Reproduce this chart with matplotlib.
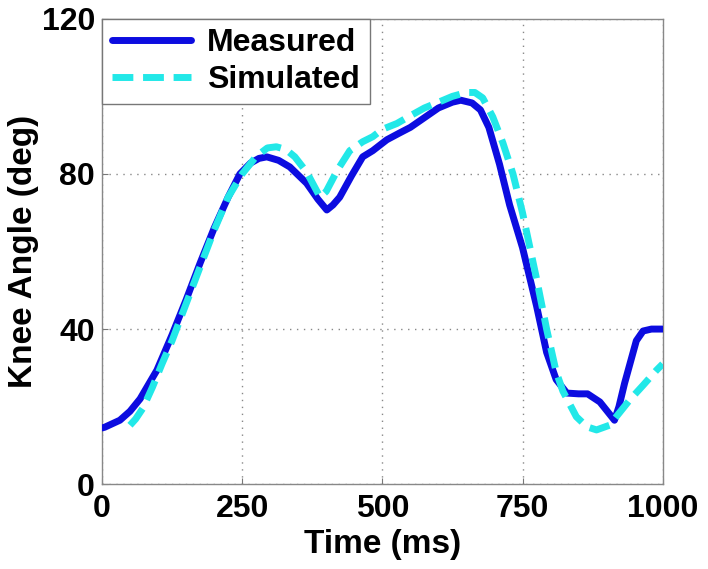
import matplotlib.pyplot as plt

# measured knee angle (ms, deg)
t_meas = [0, 5, 32, 50, 68, 98, 125, 150, 175, 200, 225, 246, 265, 280, 294,
          315, 335, 365, 385, 401, 412, 424, 445, 465, 483, 508, 530, 550, 575,
          600, 625, 640, 660, 675, 690, 709, 727, 750, 775, 793, 810, 829, 850,
          866, 888, 914, 922, 932, 953, 965, 980, 1000]
a_meas = [14.5, 14.7, 16.5, 18.8, 22, 29.4, 38.5, 47.5, 57, 66, 74, 80, 82.8, 84, 84.4,
          83.5, 81.8, 77.6, 73.5, 70.7, 72, 74, 79.5, 84.4, 86, 88.8, 90.5, 92, 94.5,
          97, 98.5, 99, 98.3, 96.5, 92, 82.5, 72, 61, 46, 34, 27, 23.5, 23.3,
          23.3, 21.2, 16.5, 20, 26, 37, 39.5, 40, 40]

# simulated knee angle (ms, deg)
t_sim = [50, 60, 73, 90, 107, 125, 150, 175, 200, 225, 250, 275, 295, 311, 328,
         344, 365, 389, 400, 420, 442, 465, 483, 500, 526, 550, 575, 602, 625,
         650, 665, 679, 697, 715, 733, 750, 775, 793, 810, 822, 846, 865, 882,
         905, 941, 965, 989, 1000]
a_sim = [15.2, 16.8, 19.6, 25, 31, 37, 46.5, 56, 65.5, 74, 80, 84.5, 86.7, 87, 86.3,
         84.4, 80.5, 74, 75.5, 81, 86, 88.3, 89.6, 91.5, 93, 95, 97, 98.6, 100,
         101, 101, 99.6, 94.7, 88, 80, 70, 53, 40, 29, 24, 17.4, 14.8, 14,
         15.2, 21.7, 25.5, 29.4, 31]

xticks = [0, 250, 500, 750, 1000]
yticks = [0, 40, 80, 120]

plt.rcParams['font.family'] = ['Liberation Sans', 'DejaVu Sans']
plt.rcParams['font.weight'] = 'bold'

fig = plt.figure(figsize=(7.08, 5.69), dpi=100)
ax = fig.add_axes([0.144, 0.149, 0.792, 0.818])

ax.plot(t_meas, a_meas, color='#0c0ce0', lw=5, label='Measured', zorder=3,
        solid_joinstyle='round', solid_capstyle='round')
ax.plot(t_sim, a_sim, color='#22e8e8', lw=5, ls=(0, (3.0, 1.4)),
        label='Simulated', zorder=4, dash_joinstyle='round')

ax.set_xlim(0, 1000)
ax.set_ylim(0, 120)
ax.set_xticks(xticks)
ax.set_yticks(yticks)
ax.tick_params(direction='in', labelsize=23, length=4, color='#777777', pad=5)
ax.tick_params(axis='x', pad=7)
for lab in ax.get_xticklabels() + ax.get_yticklabels():
    lab.set_fontweight('bold')
ax.grid(True, ls=(0, (1, 4)), color='#888888', lw=1)
for s in ax.spines.values():
    s.set_color('#888888')
    s.set_linewidth(1)

ax.set_xlabel('Time (ms)', fontsize=24, fontweight='bold', labelpad=4)
ax.set_ylabel('Knee Angle (deg)', fontsize=24, fontweight='bold', labelpad=2)

leg = ax.legend(loc='upper left', fontsize=23, handlelength=2.5,
                borderaxespad=0, fancybox=False, framealpha=1,
                edgecolor='#777777', handletextpad=0.5, borderpad=0.3,
                labelspacing=0.2)
leg.get_frame().set_linewidth(1)
for txt in leg.get_texts():
    txt.set_fontweight('bold')

fig.savefig('out.png', dpi=100)
